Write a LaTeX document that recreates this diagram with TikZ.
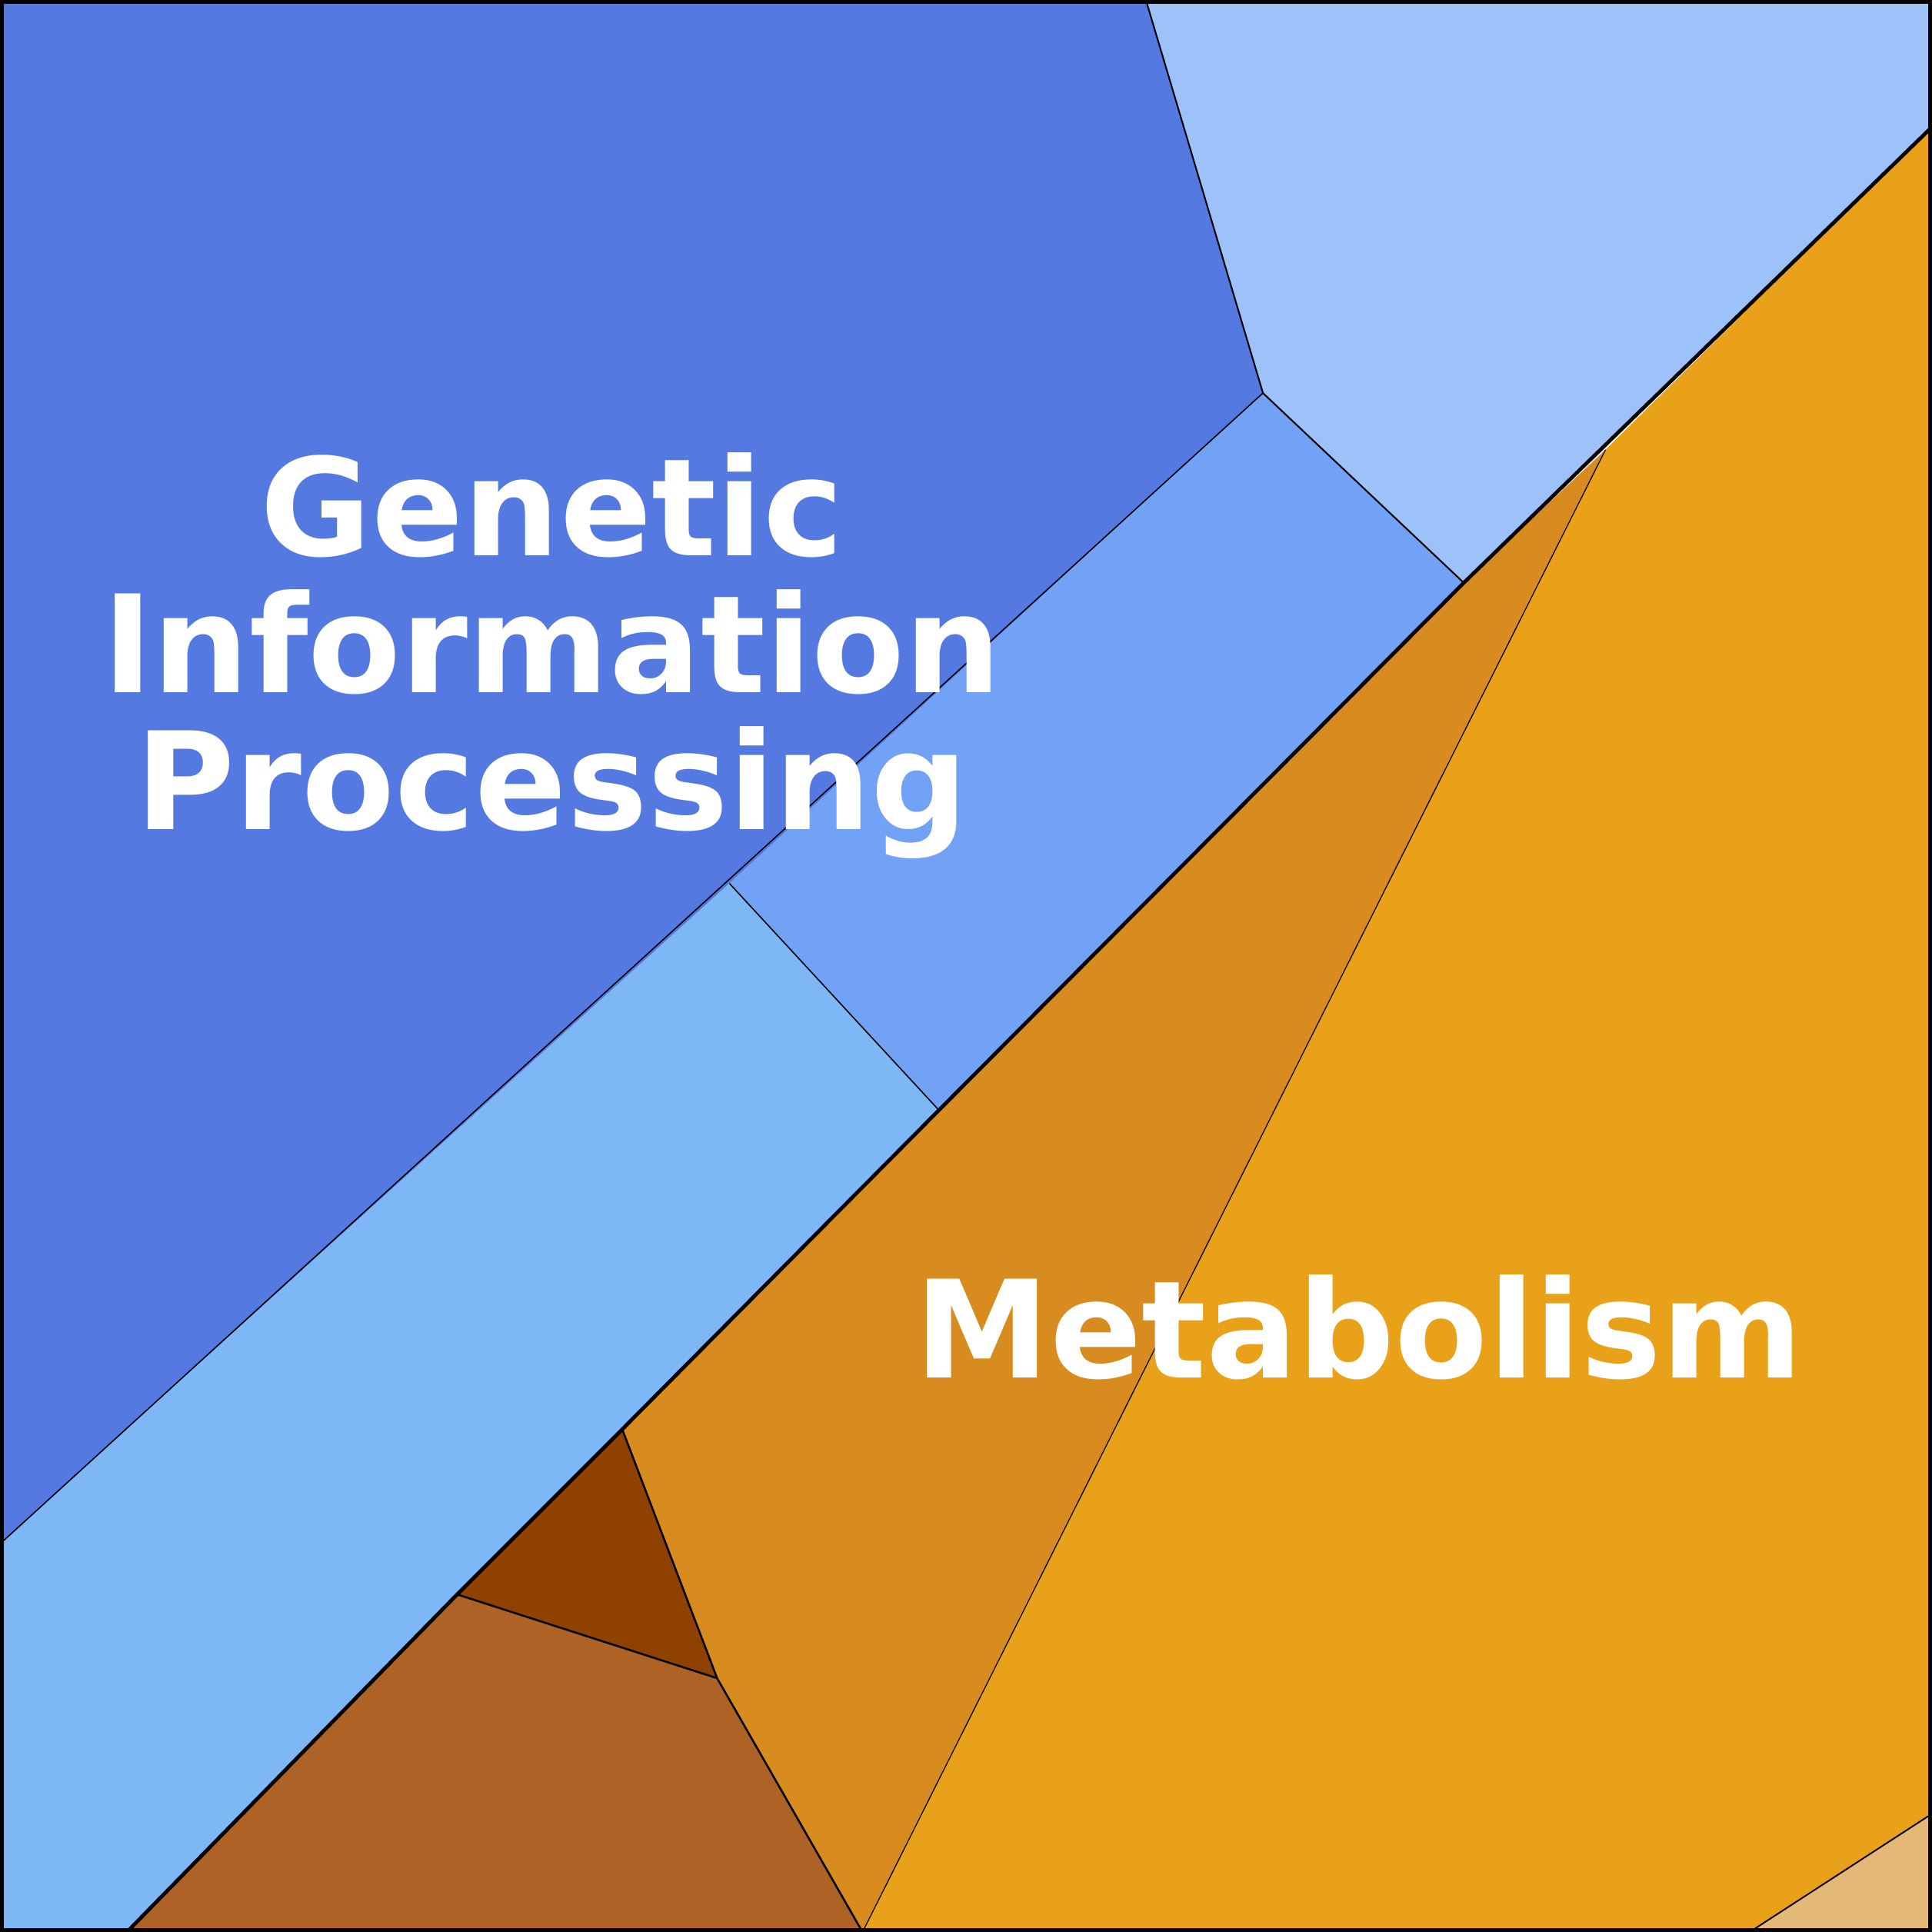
\documentclass[tikz,border=0pt]{standalone}
\usepackage{fontspec}
\setmainfont{DejaVu Sans}
\begin{document}
\begin{tikzpicture}[x=1pt,y=-1pt,
  thin edge/.style={draw=black,line width=1.2pt,line join=round},
  lbl/.style={text=white,font=\fontsize{110}{111}\selectfont\bfseries,align=center}]
\useasboundingbox (0,0) rectangle (1568,1568);
\definecolor{cA}{HTML}{5479E0}
\definecolor{cB}{HTML}{9DC1F9}
\definecolor{cC}{HTML}{72A2F5}
\definecolor{cD}{HTML}{7DB7F6}
\definecolor{cE}{HTML}{E8A119}
\definecolor{cF}{HTML}{D88C1F}
\definecolor{cG}{HTML}{8F4100}
\definecolor{cH}{HTML}{AE6226}
\definecolor{cI}{HTML}{E4B877}
\fill[cA] (0,0)--(930,0)--(1025,319)--(592,717)--(0,1253)--cycle;
\fill[cB] (930,0)--(1568,0)--(1568,103)--(1188,473)--(1025,319)--cycle;
\fill[cC] (1025,319)--(1188,473)--(762,901)--(592,717)--cycle;
\fill[cD] (592,717)--(762,901)--(103,1568)--(0,1568)--(0,1253)--cycle;
\fill[cE] (1568,103)--(1568,1472)--(1420,1568)--(700,1568)--(1303,365)--cycle;
\fill[cF] (1303,365)--(1188,473)--(762,901)--(505,1160)--(582,1362)--(700,1568)--cycle;
\fill[cG] (505,1160)--(582,1362)--(371,1294)--cycle;
\fill[cH] (371,1294)--(582,1362)--(700,1568)--(103,1568)--cycle;
\fill[cI] (1568,1472)--(1568,1568)--(1420,1568)--cycle;
\draw[thin edge,line width=1.3pt] (930,0)--(1025,319)--(1188,473);
\draw[thin edge,line width=1pt] (1025,319)--(0,1253);
\draw[thin edge,line width=1pt] (592,717)--(762,901);
\draw[thin edge,line width=0.8pt] (1303,365)--(700,1568);
\draw[thin edge,line width=1.6pt] (505,1160)--(582,1362)--(371,1294);
\draw[thin edge,line width=1.6pt] (582,1362)--(700,1568);
\draw[thin edge] (1568,1472)--(1420,1568);
\draw[line width=3pt] (1568,103)--(1188,473)--(762,901)--(505,1160)--(371,1294)--(103,1568);
\draw[line width=6pt] (0,0) rectangle (1568,1568);
\node[lbl] (gip) at (448,532) {Genetic\\Information\\Processing};
\node[lbl] (met) at (1103,1077) {Metabolism};
\end{tikzpicture}
\end{document}
